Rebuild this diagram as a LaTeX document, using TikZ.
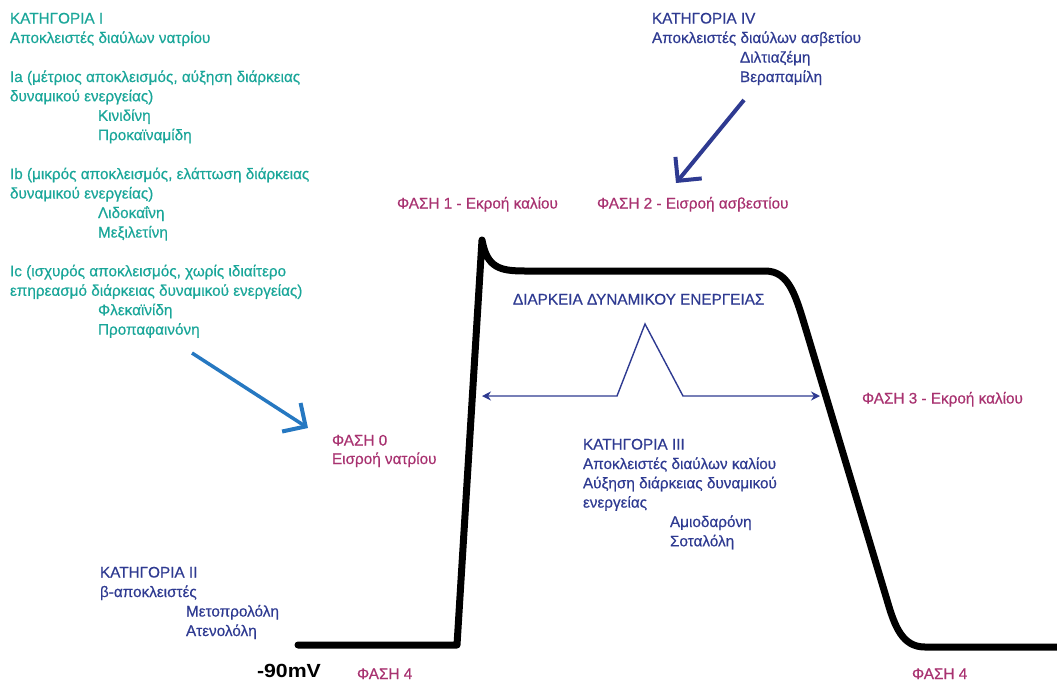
\documentclass[tikz,border=0pt]{standalone}
\usepackage{fontspec}
\setmainfont[FakeBold=0.5]{Liberation Sans}
\newfontfamily\mvfont[FakeStretch=1.12]{Liberation Sans Bold}
\usetikzlibrary{arrows.meta}
\definecolor{tealc}{RGB}{26,166,153}
\definecolor{navyc}{RGB}{46,58,145}
\definecolor{magc}{RGB}{168,50,112}
\definecolor{bluec}{RGB}{38,120,193}
\begin{document}
\begin{tikzpicture}[x=1pt,y=-1pt,
  every node/.style={inner sep=0pt, outer sep=0pt, anchor=base west, font=\fontsize{15.3}{18}\selectfont},
  tI/.style={text=tealc},
  tN/.style={text=navyc},
  tM/.style={text=magc},
  ap/.style={line width=7pt, line cap=round, line join=round, black},
  bigarrow/.style={line width=4pt, -{Straight Barb[length=17pt,width=34pt,line width=4pt]}},
  dur/.style={navyc, line width=1.4pt, line join=miter, {Stealth[length=9pt,width=9pt]}-{Stealth[length=9pt,width=9pt]}}]
\useasboundingbox (0,0) rectangle (1057,683);

% Category I
\node[tI] (c1a) at (10,23.5) {ΚΑΤΗΓΟΡΙΑ I};
\node[tI] (c1b) at (10,43) {Αποκλειστές διαύλων νατρίου};
\node[tI] (c1c) at (10,82) {Ia (μέτριος αποκλεισμός, αύξηση διάρκειας};
\node[tI] (c1d) at (10,101.3) {δυναμικού ενεργείας)};
\node[tI] (c1e) at (98,120.8) {Κινιδίνη};
\node[tI] (c1f) at (98,140.2) {Προκαϊναμίδη};
\node[tI] (c1g) at (10,179.1) {Ib (μικρός αποκλεισμός, ελάττωση διάρκειας};
\node[tI] (c1h) at (10,198.5) {δυναμικού ενεργείας)};
\node[tI] (c1i) at (98,218) {Λιδοκαΐνη};
\node[tI] (c1j) at (98,237.5) {Μεξιλετίνη};
\node[tI] (c1k) at (10,276.3) {Ic (ισχυρός αποκλεισμός, χωρίς ιδιαίτερο};
\node[tI] (c1l) at (10,295.8) {επηρεασμό διάρκειας δυναμικού ενεργείας)};
\node[tI] (c1m) at (98,315.2) {Φλεκαϊνίδη};
\node[tI] (c1n) at (98,334.7) {Προπαφαινόνη};

% Category IV
\node[tN] (c4a) at (652,23.5) {ΚΑΤΗΓΟΡΙΑ IV};
\node[tN] (c4b) at (652,43) {Αποκλειστές διαύλων ασβετίου};
\node[tN] (c4c) at (740,62.5) {Διλτιαζέμη};
\node[tN] (c4d) at (740,82) {Βεραπαμίλη};

% Category II
\node[tN] (c2a) at (100,577.5) {ΚΑΤΗΓΟΡΙΑ II};
\node[tN] (c2b) at (100,597) {β-αποκλειστές};
\node[tN] (c2c) at (186,616.5) {Μετοπρολόλη};
\node[tN] (c2d) at (186,636) {Ατενολόλη};

% Category III
\node[tN] (c3a) at (583,449.5) {ΚΑΤΗΓΟΡΙΑ III};
\node[tN] (c3b) at (583,469) {Αποκλειστές διαύλων καλίου};
\node[tN] (c3c) at (583,488.3) {Αύξηση διάρκειας δυναμικού};
\node[tN] (c3d) at (583,507.6) {ενεργείας};
\node[tN] (c3e) at (670,527) {Αμιοδαρόνη};
\node[tN] (c3f) at (670,546.3) {Σοταλόλη};

% Phases
\node[tM] (p1) at (397,208.5) {ΦΑΣΗ 1 - Εκροή καλίου};
\node[tM] (p2) at (597,208.5) {ΦΑΣΗ 2 - Εισροή ασβεστίου};
\node[tM] (p0a) at (332,445.5) {ΦΑΣΗ 0};
\node[tM] (p0b) at (332,464) {Εισροή νατρίου};
\node[tM] (p3) at (862,403.5) {ΦΑΣΗ 3 - Εκροή καλίου};
\node[tM] (p4l) at (357,679) {ΦΑΣΗ 4};
\node[tM] (p4r) at (912,679) {ΦΑΣΗ 4};

\node[tN] (dur) at (513,304.5) {ΔΙΑΡΚΕΙΑ ΔΥΝΑΜΙΚΟΥ ΕΝΕΡΓΕΙΑΣ};
\node[font=\mvfont\fontsize{19}{24}\selectfont] (mv) at (257,677.5) {-90mV};

% action potential
\coordinate (apL) at (298,645);
\coordinate (apR) at (1057,647);
\draw[ap] (apL) -- (457,645) -- (482,240) .. controls (487,268) and (500,271) .. (525,271) -- (765,271)
  .. controls (790,271) and (796,297) .. (807,333) -- (887,600)
  .. controls (895,628) and (903,647) .. (925,647) -- (apR);

% duration arrow
\coordinate (dl) at (482,396);
\coordinate (dr) at (820,396);
\draw[dur] (dl) -- (617,396) -- (645,324) -- (683,396) -- (dr);

% arrows
\coordinate (a4s) at (744,100);
\coordinate (a4e) at (676,183);
\draw[bigarrow, navyc] (a4s) -- (a4e);
\coordinate (a1s) at (192,353);
\coordinate (a1e) at (308,428);
\draw[bigarrow, bluec, line width=3.5pt] (a1s) -- (a1e);
\end{tikzpicture}
\end{document}
